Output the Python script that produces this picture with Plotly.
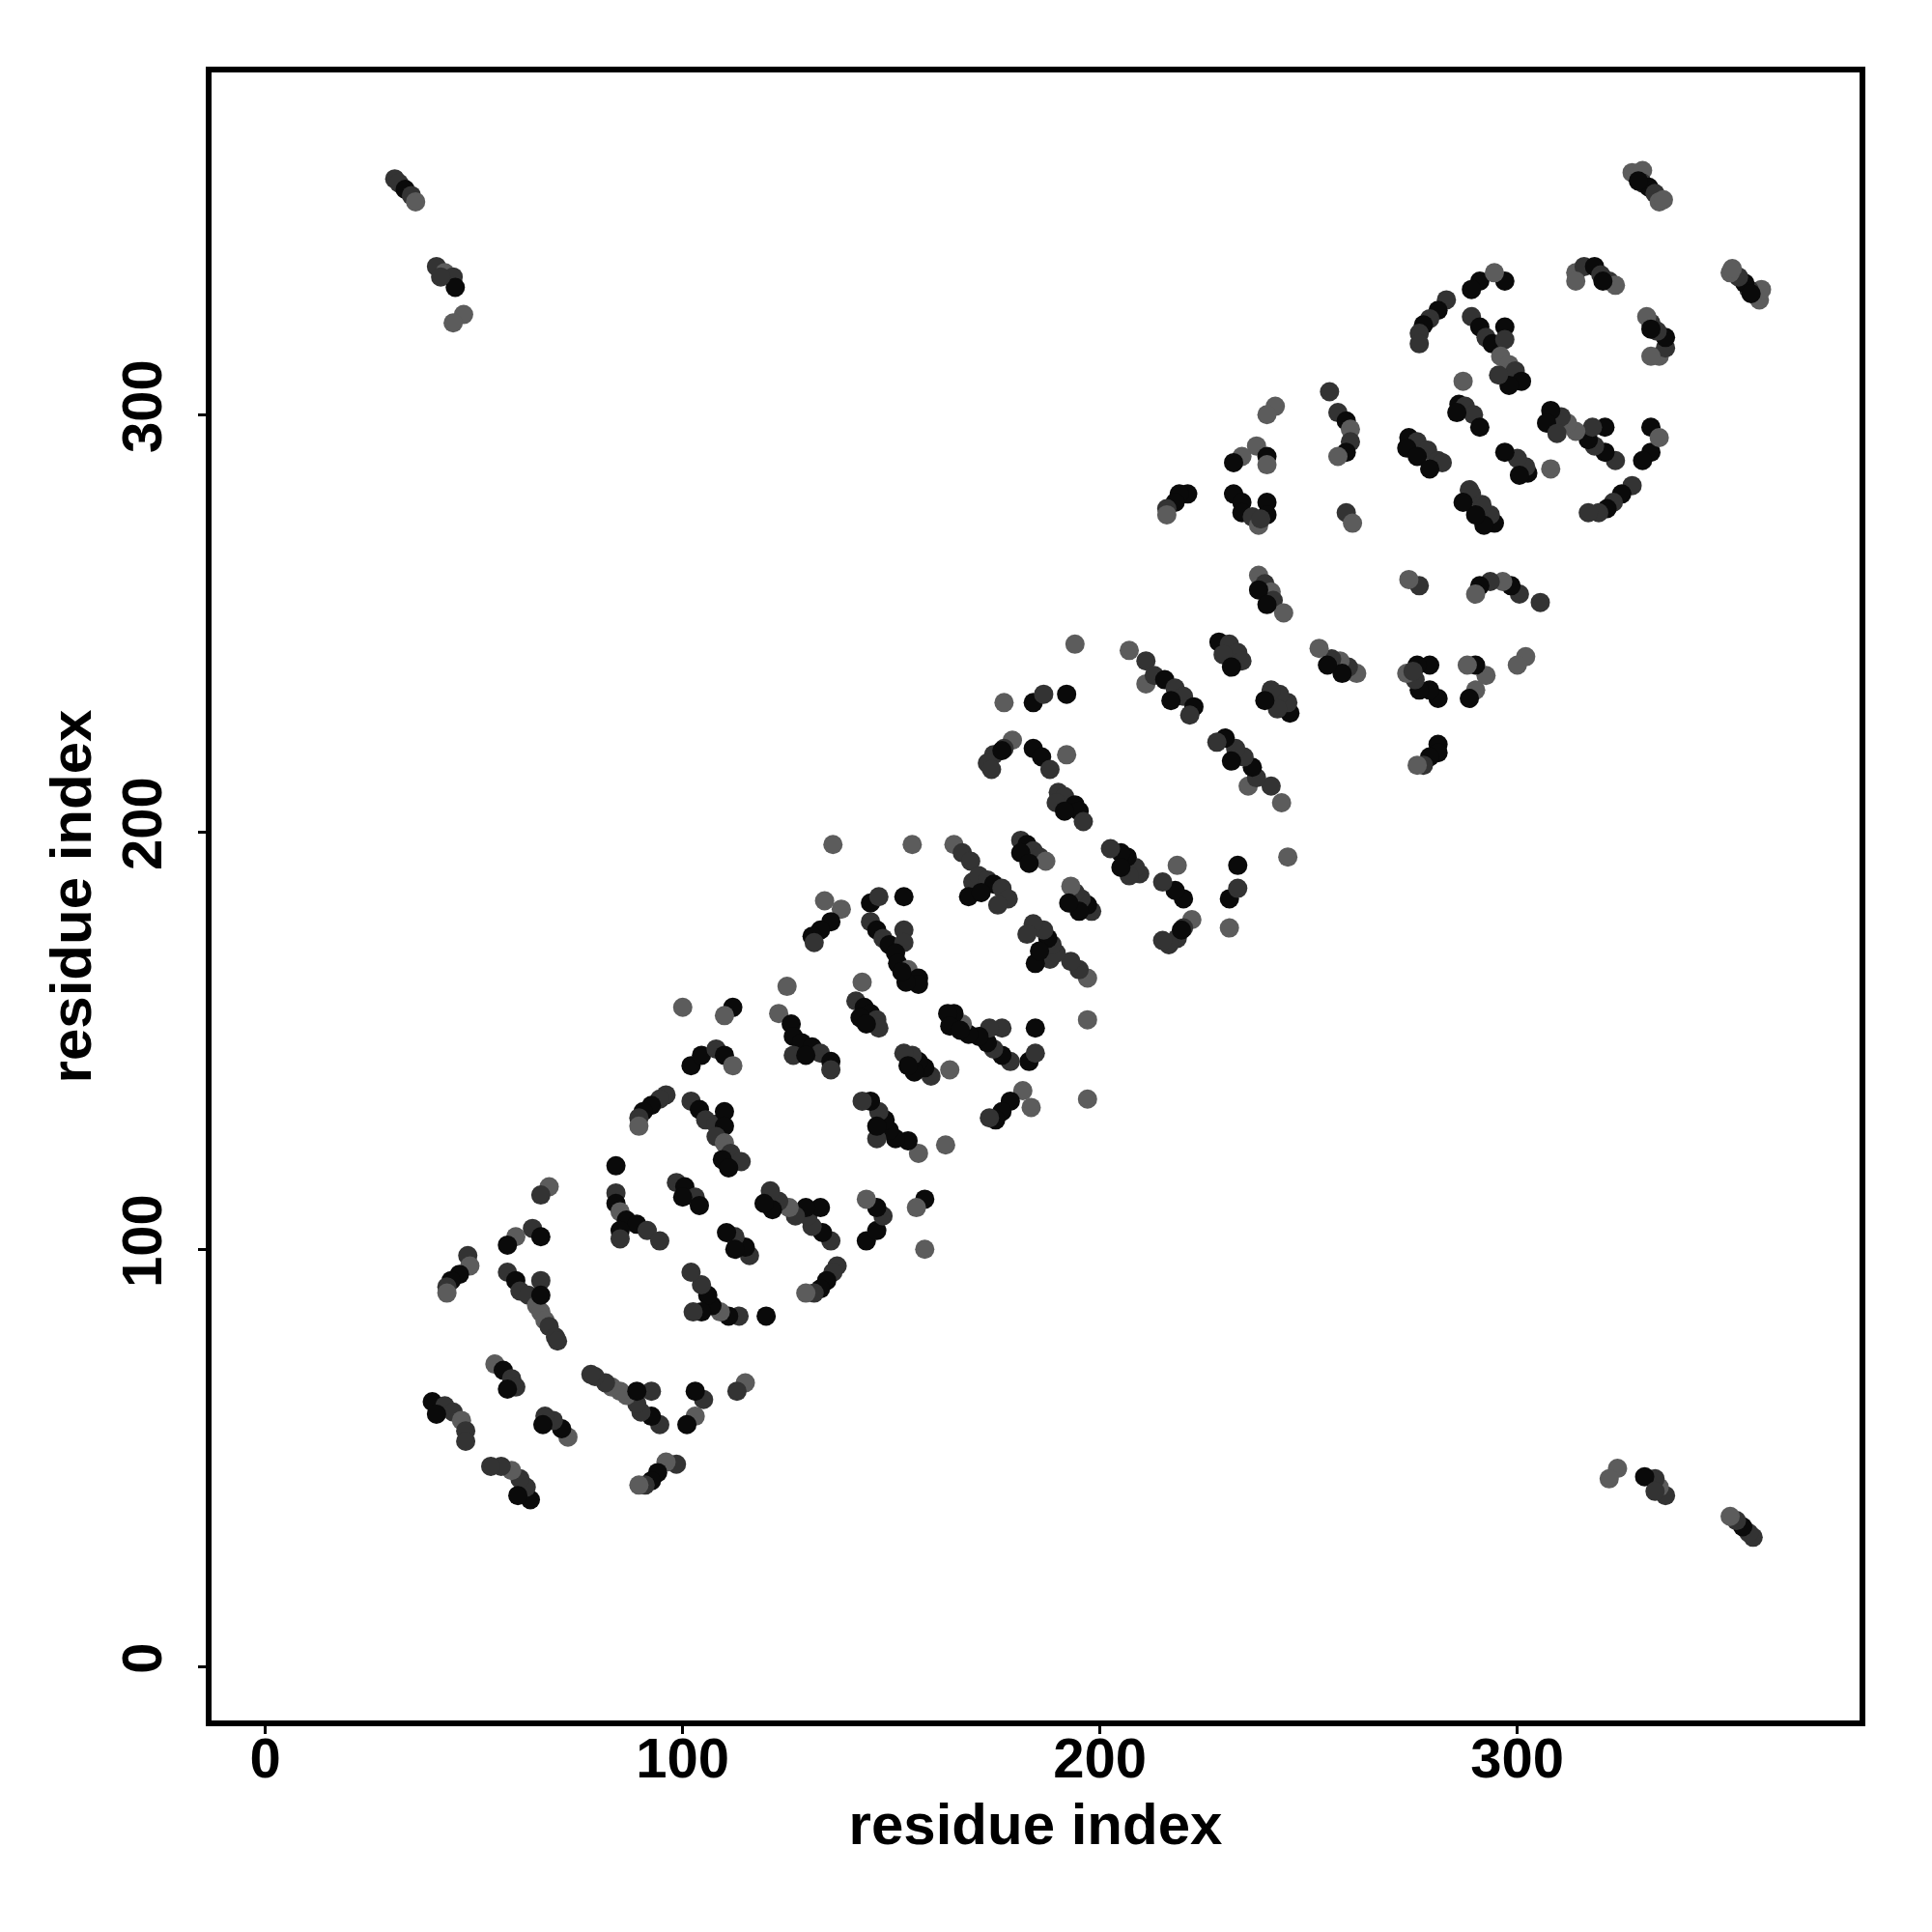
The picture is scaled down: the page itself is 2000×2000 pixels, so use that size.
import plotly.graph_objects as go

# Contact pairs (upper triangle, i < j); the map is symmetric so each pair is drawn as (i, j) and (j, i)
res_i = [
    84, 68, 66, 64, 66, 60, 58,
    84, 84, 85, 86.5, 89, 91.5, 94.5, 85, 85,
    48.5, 49, 46.5, 44.5, 43.5, 43.5,
    58, 60, 61, 63, 65, 66, 67, 68, 69.5, 70, 66, 66,
    55, 57, 59, 60, 58,
    40, 43, 45, 47, 48, 48, 41,
    134, 138, 135.5, 133, 131, 131.5,
    145, 147, 153,
    145, 146.5, 148, 149.5, 153, 153, 151, 151.5, 154, 156.5, 156.5, 153.5, 152.5,
    143,
    141.5, 143.5, 145, 146.5, 147, 142.5, 144,
    125,
    123, 126, 126.5, 128.5, 131, 133, 135.5, 135.5, 126.5, 129.5,
    100, 112, 110,
    102, 104.5, 108, 110, 112,
    96, 94.5, 92.5, 90.5, 89.5, 89.5,
    102, 104, 105.5, 108, 110, 110, 108, 110, 111.5, 114, 109.5, 111,
    98.5, 100.5, 103, 104, 100,
    177, 184, 186.5, 192,
    179, 177, 174.5, 173, 174, 176.5,
    184, 186, 188, 192,
    190, 191.5, 194, 195, 196, 189.5, 191.5,
    136, 155, 165, 167, 169,
    181, 182.5, 184, 185.5, 187, 181, 183,
    169.5, 171, 173, 174.5, 176.5, 178, 168.5, 171.5, 175.5,
    221, 219, 218, 216, 216,
    232, 234, 234, 236.5, 238, 240, 240, 238.5,
    238, 239.5, 241, 241.5, 244, 238, 240,
    194,
    207, 211,
    211, 213, 215.5, 218, 220, 222.5, 221.5, 217,
    228.5, 231, 233, 234, 229.5, 231.5,
    291, 289, 297, 294.5,
    283, 281, 279, 277.5, 276.5, 276.5,
    289, 291, 292.5, 294, 297, 297, 296, 298, 299.5, 301, 298, 295.5,
    287,
    286, 287.5, 289.5, 291, 285.5,
    274, 276, 278.5, 281, 282, 273.5, 276, 279,
    242, 240,
    255,
    257, 259, 260, 260, 259, 257,
    237.5, 240, 240, 234, 232,
    259, 260.5,
    327.5, 330, 330, 331.5, 333, 334, 335, 329,
    314, 316, 318.5, 320, 322, 323.5, 314, 320.5,
    31, 32, 33.5, 35, 36,
    41, 43, 45, 45.5, 42,
    47.5, 45,
]
res_j = [
    120, 115, 113, 105, 103, 103, 101,
    113.5, 111, 109, 107, 106, 104.5, 102, 104.5, 102.5,
    98.5, 96, 94, 92.5, 91, 89.5,
    94.5, 92.5, 90, 89, 86.5, 85, 83, 81.5, 79, 78, 92.5, 89,
    72.5, 71, 69, 67, 66.5,
    63.5, 62.5, 61, 59, 56.5, 54, 60.5,
    183.5, 181.5, 178.5, 176.5, 175, 173.5,
    183, 184.5, 184.5,
    178.5, 176.5, 174.5, 173, 176.5, 173.5, 171, 168.5, 167, 165, 163.5, 164, 166.5,
    164,
    159.5, 158, 156.5, 155, 153, 155.5, 154,
    163,
    156.5, 154, 151, 149.5, 148.5, 147, 145, 143, 146.5, 146.5,
    158, 158, 156,
    144, 146.5, 148, 146.5, 144,
    137, 136, 134.5, 133, 131.5, 129.5,
    135.5, 133.5, 131, 130, 133, 129.5, 127, 125.5, 123, 121, 121.5, 119.5,
    116, 115, 112.5, 110.5, 112.5,
    231, 231, 233, 233,
    222, 220, 218.5, 216.5, 215, 219.5,
    220, 218, 215, 218.5,
    209.5, 208.5, 206.5, 205, 202.5, 207, 205,
    197, 197, 197, 195, 193,
    198, 197, 195.5, 194, 193, 195, 192.5,
    188, 189.5, 188.5, 187.5, 186.5, 184, 184.5, 185.5, 182.5,
    281, 281, 279, 277.5, 276,
    281, 279, 276.5, 275.5, 273.5, 279, 276, 275,
    261.5, 259.5, 257.5, 255.5, 252.5, 258, 254.5,
    245,
    243.5, 241,
    235.5, 237.5, 236.5, 234.5, 232.5, 230, 228, 231.5,
    245.5, 245, 243, 241, 242.5, 239.5,
    332, 330, 332, 334,
    327.5, 325, 323, 321.5, 319.5, 317,
    323.5, 321, 318.5, 317, 321, 318, 314, 312, 310.5, 308, 307, 309.5,
    308,
    302.5, 302, 300, 297, 300.5,
    294.5, 293.5, 291.5, 289, 288.5, 292, 290, 287,
    302, 300,
    305.5,
    300.5, 298.5, 296.5, 293.5, 291, 290,
    292.5, 290, 288, 290, 288.5,
    276.5, 274,
    358, 358.5, 355.5, 354.5, 353, 351, 351.5, 356,
    334, 335.5, 335.5, 333.5, 332, 331, 332, 332,
    356.5, 355.5, 354, 352.5, 351,
    335.5, 334, 333, 330.5, 333,
    324, 322,
]
# shade class per contact: k = black, d = dark grey, g = grey
shade = list(
    "kgddkgk" "dkgkkddkd" "dgkkdg" "dkddgggddddk" "gkddk" "kddgddk"
    "ggkkkd" "kdk" "dkdkddkkgkkkk" "g" "dkkddkk" "g" "gkkkkdkddk"
    "gkg" "kkdkg" "ddkkdg" "dkddkkdgddkk" "dkdkk"
    "gkdk" "gddddk" "kkdg" "ddkkddk" "gggdd" "dkddgkk" "dddkddkkd"
    "kkkdg" "kkkdgkkd" "gdgdgkk" "g" "gd" "gdkddkdk" "kddddk"
    "kkkg" "dkdkdd" "dkdkkdggdkkd" "g" "kddkk" "kddddkkk" "gg" "d"
    "dkgdkg" "gkggk" "dg"
    "ggdkdggk" "gdkddggk" "ddkdg" "dgdkd" "gg"
)

gray = {"k": "#0a0a0a", "d": "#333333", "g": "#5c5c5c"}
cols = [gray[s] for s in shade]

xs = list(res_i) + list(res_j)
ys = list(res_j) + list(res_i)
cs = cols + cols

fig = go.Figure(
    go.Scatter(
        x=xs, y=ys, mode="markers",
        marker=dict(size=20, color=cs, line=dict(width=0)),
        showlegend=False,
    )
)

font_family = "Liberation Sans, Arial, sans-serif"
axis_common = dict(
    range=[-12.9, 382.0],
    tickvals=[0, 100, 200, 300],
    ticktext=["0", "100", "200", "300"],
    showgrid=False, zeroline=False,
    showline=True, linecolor="black", linewidth=5.5, mirror=True,
    ticks="outside", ticklen=8, tickwidth=3, tickcolor="black",
    tickfont=dict(family=font_family, size=58, color="black", weight="bold"),
)

fig.update_xaxes(
    **axis_common,
    ticklabelstandoff=-24,
    title=dict(text="residue index", standoff=18,
               font=dict(family=font_family, size=60, color="black", weight="bold")),
)
fig.update_yaxes(
    **axis_common,
    tickangle=-90,
    ticklabelstandoff=15,
    title=dict(text="residue index", standoff=2,
               font=dict(family=font_family, size=60, color="black", weight="bold")),
)

fig.update_layout(
    width=2000, height=2000,
    margin=dict(l=211, r=83, t=67, b=227),
    plot_bgcolor="white", paper_bgcolor="white",
)

fig.write_html("out.html")
